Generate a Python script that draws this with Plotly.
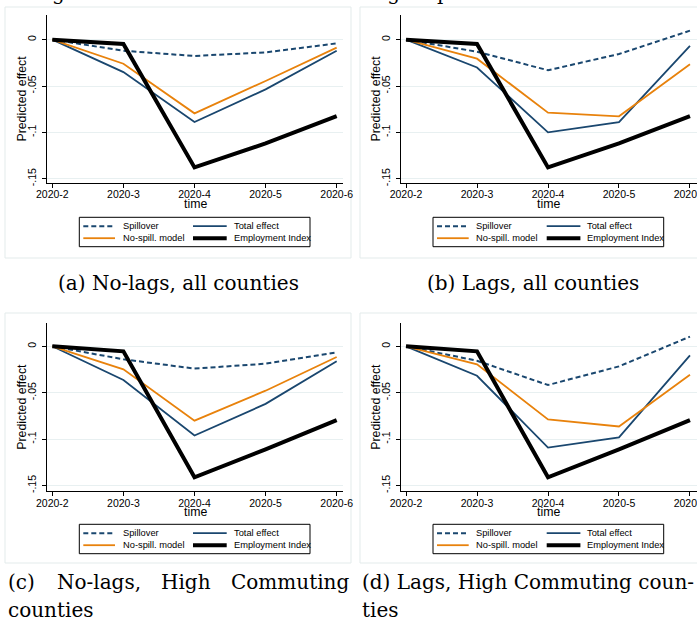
import plotly.graph_objects as go

W, H = 697, 620

months = ["2020-2", "2020-3", "2020-4", "2020-5", "2020-6"]
y_tick_vals = [0, -0.05, -0.1, -0.15]
y_tick_text = ["0", "-.05", "-.1", "-.15"]
series_names = ["Spillover", "Total effect", "No-spill. model", "Employment Index"]

# (a) No-lags, all counties
spill_a = [0, -0.012, -0.0176, -0.0137, -0.004]
total_a = [0, -0.035, -0.0889, -0.0536, -0.012]
nospill_a = [0, -0.026, -0.0795, -0.0446, -0.0086]
# (b) Lags, all counties
spill_b = [0, -0.013, -0.033, -0.0155, 0.0097]
total_b = [0, -0.030, -0.100, -0.089, -0.0068]
nospill_b = [0, -0.0205, -0.0788, -0.0827, -0.0266]
# (c) No-lags, high commuting counties
spill_c = [0, -0.014, -0.024, -0.0187, -0.0065]
total_c = [0, -0.0363, -0.096, -0.062, -0.016]
nospill_c = [0, -0.0248, -0.080, -0.0478, -0.0115]
# (d) Lags, high commuting counties
spill_d = [0, -0.0155, -0.0417, -0.0216, 0.0104]
total_d = [0, -0.0317, -0.109, -0.098, -0.0097]
nospill_d = [0, -0.0194, -0.0788, -0.0863, -0.0306]
# employment index (same within each county sample)
emp_all = [0, -0.0047, -0.1378, -0.112, -0.0824]
emp_high = [0, -0.0054, -0.141, -0.111, -0.0795]

NAVY = "#1a476f"
ORANGE = "#e8820c"
BLACK = "#000000"
GRID = "#e8f0f1"
FRAME = "#e3ebeb"

styles = [
    dict(color=NAVY, width=2, dash="5px,3px"),
    dict(color=NAVY, width=1.8),
    dict(color=ORANGE, width=1.8),
    dict(color=BLACK, width=4),
]


def px(x):
    return x / W


def py(y):
    return 1 - y / H


# panel geometry (pixels): plot-area left/right/top/bottom, y range, x range
panels = [
    dict(data=[spill_a, total_a, nospill_a, emp_all], x0=46.7, x1=343, yt=15, yb=182.7,
         yr=[-0.1543, 0.0266], xr=[-0.079, 4.089], dx=0, dy=0, tx=195,
         frame=(5, 7, 351, 258)),
    dict(data=[spill_b, total_b, nospill_b, emp_all], x0=400.7, x1=697, yt=15, yb=182.7,
         yr=[-0.1543, 0.0266], xr=[-0.075, 4.099], dx=353.7, dy=0, tx=548,
         frame=(360, 7, 720, 258)),
    dict(data=[spill_c, total_c, nospill_c, emp_high], x0=46.7, x1=343, yt=323, yb=491,
         yr=[-0.1558, 0.0251], xr=[-0.079, 4.089], dx=0, dy=307, tx=195,
         frame=(5, 313, 351, 563)),
    dict(data=[spill_d, total_d, nospill_d, emp_high], x0=400.7, x1=697, yt=323, yb=491,
         yr=[-0.1558, 0.0251], xr=[-0.075, 4.099], dx=353.7, dy=307, tx=548,
         frame=(360, 313, 720, 563)),
]

fig = go.Figure()
layout = dict(
    width=W, height=H, margin=dict(l=0, r=0, t=0, b=0, autoexpand=False),
    paper_bgcolor="white", plot_bgcolor="white", showlegend=False,
)
shapes = []
annotations = []
SANS = "Liberation Sans"
AXFONT = dict(family=SANS, size=10.5, color="#000")
TITLEFONT = dict(family=SANS, size=12.3, color="#000")
LEGFONT = dict(family=SANS, size=9.3, color="#000")
SERIF = dict(family="DejaVu Serif", size=20, color="#000")

for i, p in enumerate(panels, start=1):
    xa = "x" if i == 1 else f"x{i}"
    ya = "y" if i == 1 else f"y{i}"
    for vals, name, st in zip(p["data"], series_names, styles):
        fig.add_trace(go.Scatter(x=months, y=vals, mode="lines", name=name,
                                 line=st, xaxis=xa, yaxis=ya))
    xkey = "xaxis" if i == 1 else f"xaxis{i}"
    ykey = "yaxis" if i == 1 else f"yaxis{i}"
    layout[xkey] = dict(
        domain=[px(p["x0"]), px(p["x1"])], anchor=ya, type="category",
        range=p["xr"], showgrid=False, zeroline=False, showline=True,
        linecolor="#000", linewidth=1, ticks="outside", ticklen=4,
        tickcolor="#000", tickfont=AXFONT, ticklabeloverflow="allow",
        ticklabelstandoff=-2, automargin=False, fixedrange=True,
    )
    layout[ykey] = dict(
        domain=[py(p["yb"]), py(p["yt"])], anchor=xa, range=p["yr"],
        tickvals=y_tick_vals, ticktext=y_tick_text, tickangle=-90,
        showgrid=True, gridcolor=GRID, gridwidth=1, zeroline=False,
        showline=True, linecolor="#000", linewidth=1, ticks="outside",
        ticklen=4, tickcolor="#000", tickfont=AXFONT, ticklabelstandoff=2,
        automargin=False, fixedrange=True,
    )

    # graph region frame
    fx0, fy0, fx1, fy1 = p["frame"]
    shapes.append(dict(type="rect", xref="paper", yref="paper", x0=px(fx0), x1=px(fx1),
                       y0=py(fy1), y1=py(fy0), line=dict(color=FRAME, width=1),
                       layer="below"))

    # axis titles
    annotations.append(dict(text="time", xref="paper", yref="paper",
                            x=px(p["tx"]), y=py(p["yb"] + 21), showarrow=False,
                            font=TITLEFONT, xanchor="center", yanchor="middle"))
    annotations.append(dict(text="Predicted effect", xref="paper", yref="paper",
                            x=px(p["x0"] - 25), y=py((p["yt"] + p["yb"]) / 2),
                            textangle=-90, showarrow=False, font=TITLEFONT,
                            xanchor="center", yanchor="middle"))

    # legend box
    bx0, by0 = 79.3 + p["dx"], 217.3 + p["dy"]
    shapes.append(dict(type="rect", xref="paper", yref="paper", x0=px(bx0), x1=px(bx0 + 230.7),
                       y0=py(by0 + 29.4), y1=py(by0), line=dict(color="#000", width=1),
                       fillcolor="white"))
    key_pos = [(4.0, 35.7, 41.4, 8.9), (113.7, 147.4, 152.4, 8.9),
               (4.0, 35.7, 41.4, 20.9), (113.7, 147.4, 152.4, 20.9)]
    for (k0, k1, tx, ry), name, st in zip(key_pos, series_names, styles):
        shapes.append(dict(type="line", xref="paper", yref="paper",
                           x0=px(bx0 + k0), x1=px(bx0 + k1),
                           y0=py(by0 + ry), y1=py(by0 + ry), line=st))
        annotations.append(dict(text=name, xref="paper", yref="paper",
                                x=px(bx0 + tx), y=py(by0 + ry), showarrow=False,
                                font=LEGFONT, xanchor="left", yanchor="middle"))


# surrounding document text
def serif_text(text, x, y, anchor="left"):
    annotations.append(dict(text=text, xref="paper", yref="paper", x=px(x), y=py(y),
                            showarrow=False, font=SERIF, xanchor=anchor, yanchor="middle"))


serif_text("ws lags of each covariate of the \u201cno-lags\u201d specification.", -2, -7)
serif_text("(a) No-lags, all counties", 178.5, 283, "center")
serif_text("(b) Lags, all counties", 532.5, 283, "center")
serif_text("(c)", 6, 582)
serif_text("No-lags,", 55, 582)
serif_text("High", 159, 582)
serif_text("Commuting", 229, 582)
serif_text("counties", 6, 610)
serif_text("(d) Lags, High Commuting coun-", 360, 582)
serif_text("ties", 360, 610)

layout["shapes"] = shapes
layout["annotations"] = annotations
fig.update_layout(**layout)
fig.write_html("out.html")
